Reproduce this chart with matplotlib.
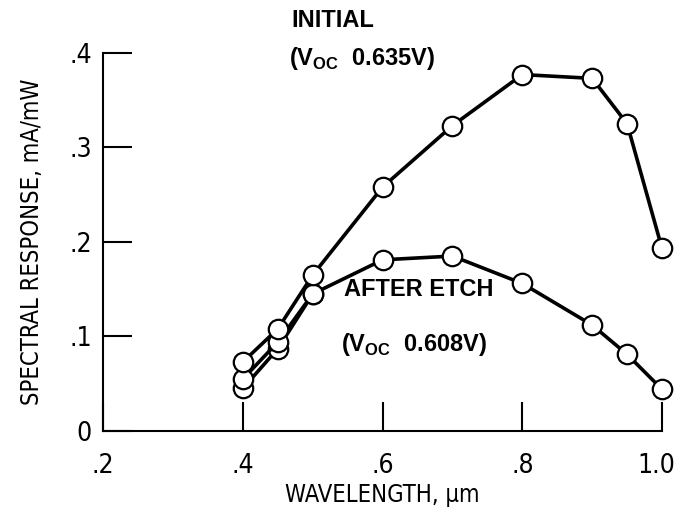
import matplotlib
matplotlib.use("Agg")
import matplotlib.pyplot as plt
from matplotlib.font_manager import FontProperties
from matplotlib.transforms import ScaledTranslation

# wavelength, um
wl = [0.40, 0.45, 0.50, 0.60, 0.70, 0.80, 0.90, 0.95, 1.00]
initial = [0.073, 0.108, 0.165, 0.258, 0.323, 0.377, 0.373, 0.325, 0.193]
after_etch = [0.055, 0.094, 0.145, 0.181, 0.185, 0.156, 0.112, 0.081, 0.044]
# short third trace near the blue end
wl_short = [0.40, 0.45, 0.50]
extra = [0.045, 0.087, 0.145]

xticks = [0.2, 0.4, 0.6, 0.8, 1.0]
xlabels = [".2", ".4", ".6", ".8", "1.0"]
yticks = [0, 0.1, 0.2, 0.3, 0.4]
ylabels = ["0", ".1", ".2", ".3", ".4"]

plt.rcParams['mathtext.fontset'] = 'custom'
plt.rcParams['mathtext.bf'] = 'Liberation Sans:bold'
plt.rcParams['mathtext.rm'] = 'Liberation Sans'

tick_font = FontProperties(family='DejaVu Sans', stretch='condensed', size=19)
label_font = FontProperties(family='DejaVu Sans', stretch='condensed', size=17)

fig = plt.figure(figsize=(6.79, 5.13), dpi=100)
ax = fig.add_axes([0.152, 0.160, 0.823, 0.737])

style = dict(color='black', lw=2.6, marker='o', ms=14, mfc='white',
             mec='black', mew=1.6, clip_on=False)
ax.plot(wl_short, extra, **style)
ax.plot(wl, after_etch, **style)
ax.plot(wl, initial, **style)

ax.set_xlim(0.2, 1.0)
ax.set_ylim(0, 0.4)
ax.spines['top'].set_visible(False)
ax.spines['right'].set_visible(False)
for s in ['left', 'bottom']:
    ax.spines[s].set_linewidth(1.5)

ax.set_xticks(xticks)
ax.set_xticklabels(xlabels, fontproperties=tick_font)
ax.set_yticks(yticks)
ax.set_yticklabels(ylabels, fontproperties=tick_font)
ax.tick_params(direction='in', length=21, width=1.5)
ax.tick_params(axis='x', pad=16)
ax.tick_params(axis='y', pad=8)

# keep "1.0" inside the picture
last = ax.get_xticklabels()[-1]
last.set_transform(last.get_transform() + ScaledTranslation(-6 / 100, 0, fig.dpi_scale_trans))

ax.set_xlabel('WAVELENGTH, \u00b5m', fontproperties=label_font, labelpad=3)
ax.set_ylabel('SPECTRAL RESPONSE, mA/mW', fontproperties=label_font, labelpad=18)

bold = dict(fontsize=17, fontweight='bold', family='Liberation Sans',
            va='center', clip_on=False)
ax.text(0.470, 0.434, 'INITIAL', **bold)
ax.text(0.466, 0.394, r'(V$_{\mathbf{OC}}$  0.635V)', **bold)
ax.text(0.545, 0.150, 'AFTER ETCH', **bold)
ax.text(0.541, 0.091, r'(V$_{\mathbf{OC}}$  0.608V)', **bold)

fig.savefig('out.png', dpi=100)
